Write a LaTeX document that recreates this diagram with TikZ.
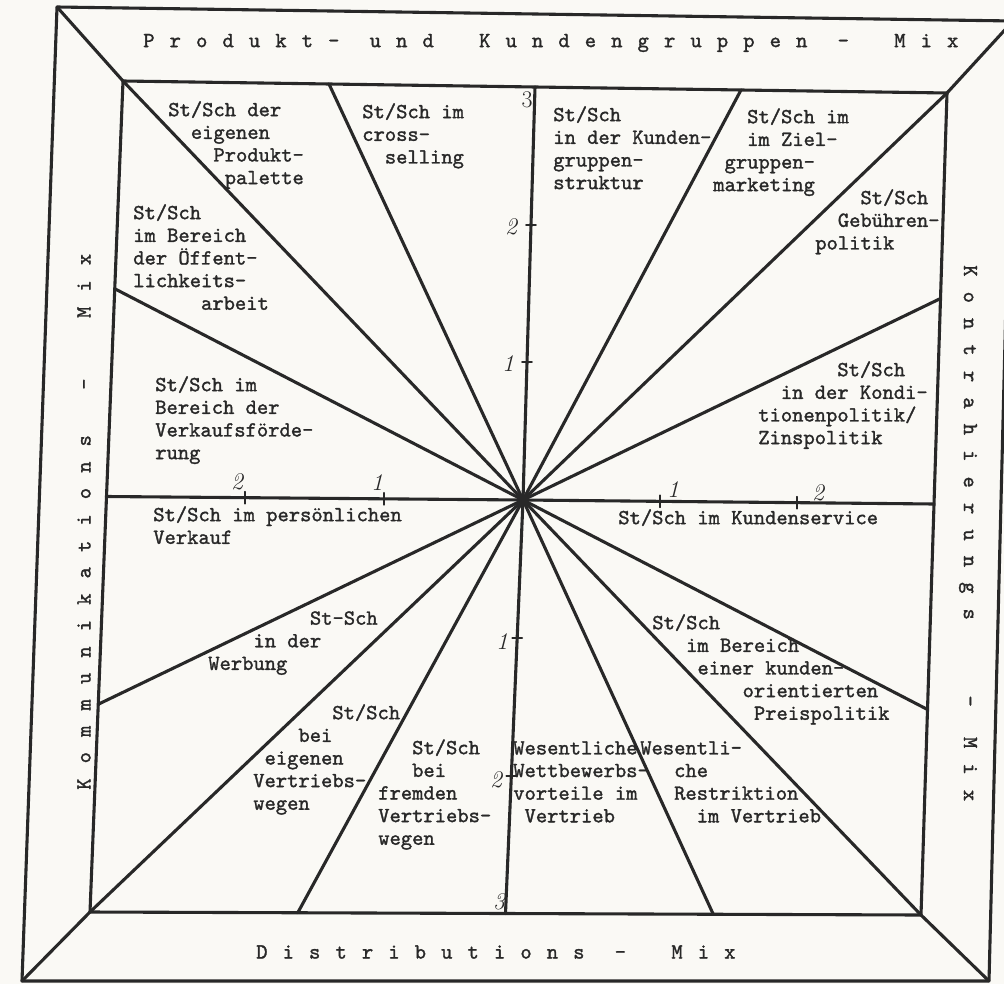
\documentclass[tikz,border=0pt]{standalone}
\usepackage{fontspec}
\setmonofont{lmmono10-regular.otf}[FakeBold=1.4]
\usetikzlibrary{calc}
\definecolor{paper}{RGB}{250,249,245}
\definecolor{ink}{RGB}{40,40,40}
\newcommand\mixfont{\ttfamily\fontsize{15.3}{16.1}\selectfont\spaceskip 10.75pt\relax}
\begin{document}
\begin{tikzpicture}[x=0.025cm,y=-0.025cm,
  rule/.style={ink,line width=2.2pt,line join=round,line cap=round},
  feld/.style={anchor=north west,inner sep=0pt,align=left,text=ink,
    font=\ttfamily\fontsize{15.3}{16.1}\selectfont},
  mix/.style={anchor=west,inner sep=0pt,text=ink,font=\mixfont},
  skala/.style={inner sep=0pt,text=ink,font=\fontsize{17}{17}\selectfont\itshape}]
  \fill[paper] (0,0) rectangle (1004,984);
  \useasboundingbox (0,0) rectangle (1004,984);
  \clip (0,0) rectangle (1004,984);
  \coordinate (aTL) at (57,7);
  \coordinate (aTR) at (1013,21);
  \coordinate (aBR) at (989,981);
  \coordinate (aBL) at (22,981);
  \coordinate (iTL) at (123,81);
  \coordinate (iTR) at (947,93);
  \coordinate (iBR) at (921,915);
  \coordinate (iBL) at (90,912);
  \coordinate (M) at (523,500);
  \foreach \a/\b/\n in {iTL/iTR/o,iTR/iBR/r,iBR/iBL/u,iBL/iTL/l} {
    \coordinate (\n1) at ($(\a)!0.25!(\b)$);
    \coordinate (\n2) at ($(\a)!0.5!(\b)$);
    \coordinate (\n3) at ($(\a)!0.75!(\b)$);
  }
  \draw[rule] (aTL) -- (aTR) -- (aBR) -- (aBL) -- cycle;
  \draw[rule] (iTL) -- (iTR) -- (iBR) -- (iBL) -- cycle;
  \foreach \e in {TL,TR,BR,BL}
    \draw[rule] (a\e) -- (i\e);
  \foreach \p in {iTL,o1,o2,o3,iTR,r1,r2,r3,iBR,u1,u2,u3,iBL,l1,l2,l3}
    \draw[rule] (M) -- (\p);
  \fill[ink] (M) circle[radius=3pt];
  \foreach \k in {1,2} {
    \draw[rule,line width=1.2pt] ($(M)!\k/3!(o2)$) +(-5,0) -- +(5,0);
    \draw[rule,line width=1.2pt] ($(M)!\k/3!(u2)$) +(-5,0) -- +(5,0);
    \draw[rule,line width=1.2pt] ($(M)!\k/3!(l2)$) +(0,-6) -- +(0,6);
    \draw[rule,line width=1.2pt] ($(M)!\k/3!(r2)$) +(0,-6) -- +(0,6);
  }
  \node[skala] (s3o) at (527,100) {\upshape 3};
  \node[skala] (s2o) at (511,227) {2};
  \node[skala] (s1o) at (508,364) {1};
  \node[skala] (s1u) at (502,642) {1};
  \node[skala] (s2u) at (496,780) {2};
  \node[skala] (s3u) at (499,902) {3};
  \node[skala] (s2l) at (237,482) {2};
  \node[skala] (s1l) at (377,483) {1};
  \node[skala] (s1r) at (673,490) {1};
  \node[skala] (s2r) at (818,493) {2};
  \node[mix] (kopf) at (143,43) {P r o d u k t -~~u n d~~~K u n d e n g r u p p e n~~-~~~M i x};
  \node[mix] (fuss) at (256,952) {D i s t r i b u t i o n s~~-~~~M i x};
  \node[mix,rotate=90] (links) at (84,790) {K o m m u n i k a t i o n s~~~-~~~~M i x};
  \node[mix,rotate=-90] (rechts) at (968,265) {K o n t r a h i e r u n g s~~~~~-~~M i x};
  \node[feld] (palette) at (168,101) {St/Sch der\\~~eigenen\\~~~~Produkt-\\~~~~~palette};
  \node[feld] (cross) at (362,103) {St/Sch im\\cross-\\~~selling};
  \node[feld] (oeffent) at (133,204) {St/Sch\\im Bereich\\der Öffent-\\lichkeits-\\~~~~~~arbeit};
  \node[feld] (foerder) at (155,376) {St/Sch im\\Bereich der\\Verkaufsförde-\\rung};
  \node[feld] (verkauf) at (153,506) {St/Sch im persönlichen\\Verkauf};
  \node[feld] (werbung) at (208,611) {~~~~~~~~~St-Sch\\~~~~in der\\Werbung};
  \node[feld] (eigen) at (253,704) {~~~~~~~St/Sch\\~~~~bei\\~eigenen\\Vertriebs-\\wegen};
  \node[feld] (fremd) at (378,739) {~~~St/Sch\\~~~bei\\fremden\\Vertriebs-\\wegen};
  \node[feld] (vorteil) at (513,741) {Wesentliche\\Wettbewerbs-\\vorteile im\\~Vertrieb};
  \node[feld] (restrikt) at (640,741) {Wesentli-\\~~~che\\~~~Restriktion\\~~~~~im Vertrieb};
  \node[feld] (preis) at (652,614) {St/Sch\\~~~im Bereich\\~~~~einer kunden-\\~~~~~~~~orientierten\\~~~~~~~~~Preispolitik};
  \node[feld] (service) at (618,509) {St/Sch im Kundenservice};
  \node[feld] (kondi) at (758,361) {~~~~~~~St/Sch\\~~in der Kondi-\\tionenpolitik/\\Zinspolitik};
  \node[feld] (gebuehr) at (815,189) {~~~~St/Sch\\~~Gebühren-\\politik};
  \node[feld] (ziel) at (713,108) {~~~St/Sch im\\~~~im Ziel-\\~gruppen-\\marketing};
  \node[feld] (struktur) at (553,106) {St/Sch\\in der Kunden-\\gruppen-\\struktur};
\end{tikzpicture}
\end{document}
